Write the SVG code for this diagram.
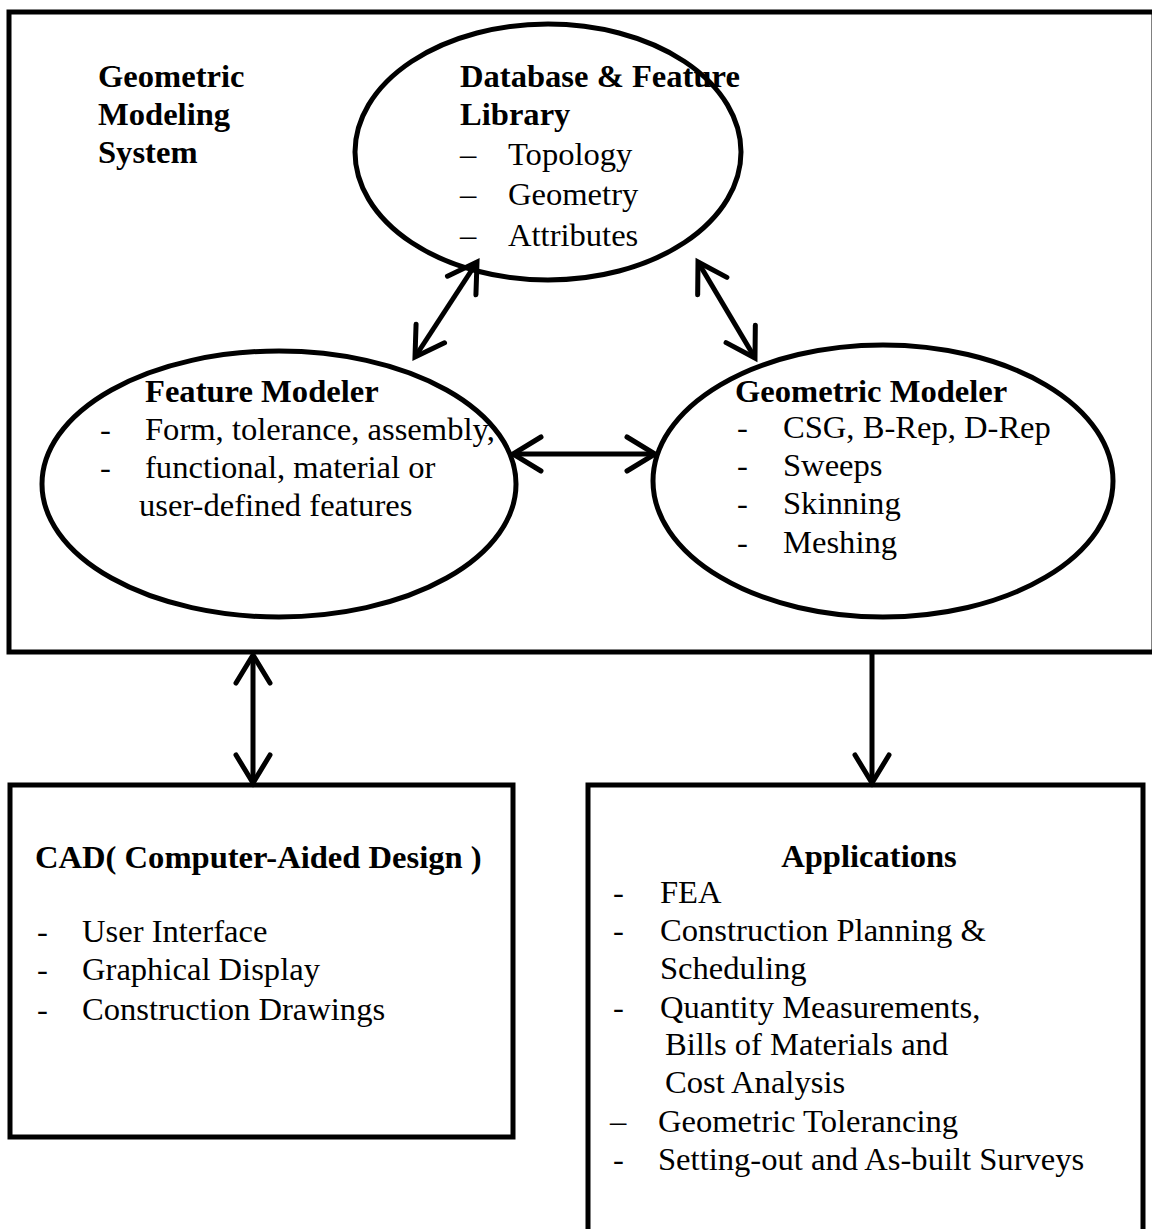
<svg xmlns="http://www.w3.org/2000/svg" width="1152" height="1229" viewBox="0 0 1152 1229">
<style>
.b{fill:none;stroke:#000;stroke-width:5}
.t{font-family:"Liberation Serif","Times New Roman",serif;font-size:32.6px;fill:#000}
.h{font-weight:bold}
.c{fill:none;stroke:#000;stroke-width:5}
</style>
<defs>
<marker id="ah" markerUnits="userSpaceOnUse" viewBox="-35 -22 40 44" refX="0" refY="0" markerWidth="40" markerHeight="44" orient="auto-start-reverse" overflow="visible">
<path d="M-28,-17 L0,0 L-28,17" fill="none" stroke="#000" stroke-width="5" stroke-linecap="round" stroke-linejoin="miter"/>
</marker>
</defs>
<rect width="1152" height="1229" fill="#fff"/>
<g id="system">
<rect class="b" x="9" y="12" width="1145" height="640"/>
<text class="t h" x="98" y="87">Geometric</text>
<text class="t h" x="98" y="125">Modeling</text>
<text class="t h" x="98" y="163">System</text>
</g>
<g id="database">
<ellipse class="b" cx="548" cy="152" rx="193" ry="128"/>
<text class="t h" x="460" y="87">Database &amp; Feature</text>
<text class="t h" x="460" y="125">Library</text>
<text class="t" x="460" y="165">–</text><text class="t" x="508" y="165">Topology</text>
<text class="t" x="460" y="205">–</text><text class="t" x="508" y="205">Geometry</text>
<text class="t" x="460" y="246">–</text><text class="t" x="508" y="246">Attributes</text>
</g>
<g id="feature-modeler">
<ellipse class="b" cx="279" cy="484" rx="237" ry="133"/>
<text class="t h" x="145" y="402">Feature Modeler</text>
<text class="t" x="100" y="440">-</text><text class="t" x="145" y="440">Form, tolerance, assembly,</text>
<text class="t" x="100" y="478">-</text><text class="t" x="145" y="478">functional, material or</text>
<text class="t" x="139" y="516">user-defined features</text>
</g>
<g id="geometric-modeler">
<ellipse class="b" cx="883" cy="481" rx="230" ry="136"/>
<text class="t h" x="735" y="402">Geometric Modeler</text>
<text class="t" x="737" y="438">-</text><text class="t" x="783" y="438">CSG, B-Rep, D-Rep</text>
<text class="t" x="737" y="476">-</text><text class="t" x="783" y="476">Sweeps</text>
<text class="t" x="737" y="514">-</text><text class="t" x="783" y="514">Skinning</text>
<text class="t" x="737" y="553">-</text><text class="t" x="783" y="553">Meshing</text>
</g>
<g id="cad">
<rect class="b" x="10" y="785" width="503" height="352"/>
<text class="t h" x="35" y="868">CAD( Computer-Aided Design )</text>
<text class="t" x="37" y="942">-</text><text class="t" x="82" y="942">User Interface</text>
<text class="t" x="37" y="980">-</text><text class="t" x="82" y="980">Graphical Display</text>
<text class="t" x="37" y="1020">-</text><text class="t" x="82" y="1020">Construction Drawings</text>
</g>
<g id="applications">
<rect class="b" x="588" y="785" width="555" height="460"/>
<text class="t h" x="869" y="867" text-anchor="middle">Applications</text>
<text class="t" x="613" y="903">-</text><text class="t" x="660" y="903">FEA</text>
<text class="t" x="613" y="941">-</text><text class="t" x="660" y="941">Construction Planning &amp;</text>
<text class="t" x="660" y="979">Scheduling</text>
<text class="t" x="613" y="1018">-</text><text class="t" x="660" y="1018">Quantity Measurements,</text>
<text class="t" x="665" y="1055">Bills of Materials and</text>
<text class="t" x="665" y="1093">Cost Analysis</text>
<text class="t" x="610" y="1132">–</text><text class="t" x="658" y="1132">Geometric Tolerancing</text>
<text class="t" x="613" y="1170">-</text><text class="t" x="658" y="1170">Setting-out and As-built Surveys</text>
</g>
<g id="connectors">
<line class="c" x1="477" y1="262" x2="415" y2="357" marker-start="url(#ah)" marker-end="url(#ah)"/>
<line class="c" x1="698" y1="262" x2="755" y2="358" marker-start="url(#ah)" marker-end="url(#ah)"/>
<line class="c" x1="513" y1="454" x2="655" y2="454" marker-start="url(#ah)" marker-end="url(#ah)"/>
<line class="c" x1="253" y1="655" x2="253" y2="783" marker-start="url(#ah)" marker-end="url(#ah)"/>
<line class="c" x1="872" y1="652" x2="872" y2="783" marker-end="url(#ah)"/>
</g>
</svg>
